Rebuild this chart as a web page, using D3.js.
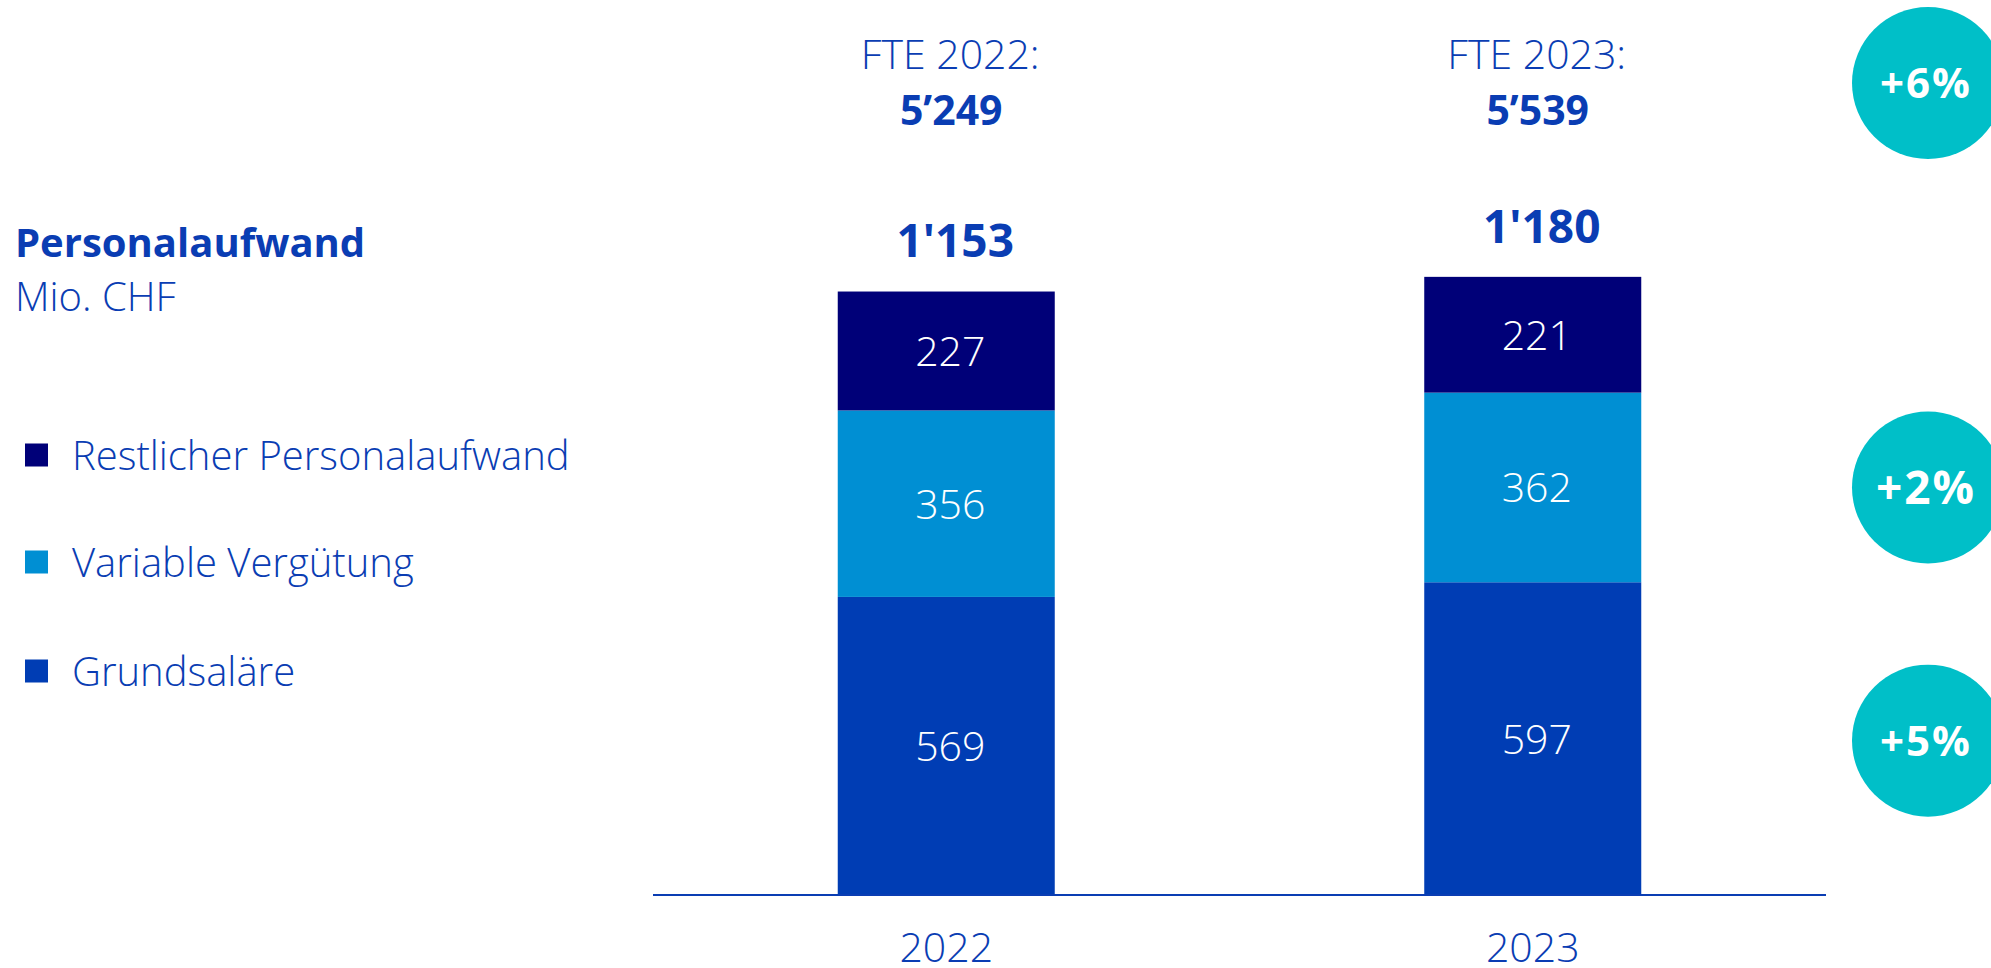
<!DOCTYPE html>
<html>
<head>
<meta charset="utf-8">
<script src="https://cdn.jsdelivr.net/npm/d3@7"></script>
<style>
  html, body { margin: 0; padding: 0; background: #ffffff; }
  svg { display: block; }
  text { font-family: "Open Sans", "Noto Sans", sans-serif; }
</style>
</head>
<body>
<svg id="chart" width="1991" height="968"></svg>
<script>
// ---- data ----
const years = ["2022", "2023"];
const seriesNames = ["Grundsaläre", "Variable Vergütung", "Restlicher Personalaufwand"];
const grundsalaere = [569, 597];
const variableVerguetung = [356, 362];
const restlicherAufwand = [227, 221];
const totalLabels = ["1'153", "1'180"];
const totalValues = [1153, 1180];
const fteLabels = ["FTE 2022:", "FTE 2023:"];
const fteValues = ["5’249", "5’539"];
const changeLabels = ["+6%", "+2%", "+5%"];
const titleText = "Personalaufwand";
const unitText = "Mio. CHF";

// ---- styling ----
const colors = {
  "Grundsaläre": "#003db4",
  "Variable Vergütung": "#008fd3",
  "Restlicher Personalaufwand": "#000078"
};
const textBlue = "#0a3db3";
const circleColor = "#00bfc8";

const svg = d3.select("#chart");

const x = d3.scaleBand().domain(years).range([653, 1826]).paddingInner(0.63).paddingOuter(0.315);
const y = d3.scaleLinear().domain([0, 1153]).range([895, 291]);

const rows = years.map((yr, i) => ({
  year: yr,
  "Grundsaläre": grundsalaere[i],
  "Variable Vergütung": variableVerguetung[i],
  "Restlicher Personalaufwand": restlicherAufwand[i]
}));
const stack = d3.stack().keys(seriesNames)(rows);

// bars
const layers = svg.append("g").selectAll("g").data(stack).join("g")
  .attr("fill", d => colors[d.key]);
layers.selectAll("rect").data(d => d).join("rect")
  .attr("x", d => x(d.data.year))
  .attr("width", x.bandwidth())
  .attr("y", d => y(d[1]))
  .attr("height", d => y(d[0]) - y(d[1]));

// segment labels
layers.each(function(layer) {
  d3.select(this).selectAll("text").data(layer).join("text")
    .attr("x", d => x(d.data.year) + x.bandwidth() / 2 + 4)
    .attr("y", d => (y(d[0]) + y(d[1])) / 2 + 15)
    .attr("text-anchor", "middle")
    .attr("fill", "#ffffff")
    .attr("font-size", 41)
    .attr("font-weight", 300)
    .text(d => d.data[layer.key]);
});

// axis baseline
const xAxis = d3.axisBottom(x).tickSize(0).tickPadding(0).tickFormat("");
const axisG = svg.append("g").attr("transform", "translate(0,895)").call(xAxis);
axisG.select(".domain").attr("stroke", textBlue).attr("stroke-width", 2)
  .attr("d", "M653,0H1826");

// year labels
svg.append("g").selectAll("text").data(years).join("text")
  .attr("x", d => x(d) + x.bandwidth() / 2)
  .attr("y", 962)
  .attr("text-anchor", "middle")
  .attr("fill", textBlue)
  .attr("font-size", 41)
  .attr("font-weight", 300)
  .text(d => d);

// totals
svg.append("g").selectAll("text").data(years).join("text")
  .attr("x", d => x(d) + x.bandwidth() / 2 + 9)
  .attr("y", (d, i) => y(totalValues[i]) - 34)
  .attr("text-anchor", "middle")
  .attr("fill", textBlue)
  .attr("font-size", 46)
  .attr("font-weight", 700)
  .text((d, i) => totalLabels[i]);

// FTE labels
svg.append("g").selectAll("text").data(years).join("text")
  .attr("x", d => x(d) + x.bandwidth() / 2 + 4)
  .attr("y", 69)
  .attr("text-anchor", "middle")
  .attr("fill", textBlue)
  .attr("font-size", 41)
  .attr("font-weight", 300)
  .text((d, i) => fteLabels[i]);
svg.append("g").selectAll("text").data(years).join("text")
  .attr("x", d => x(d) + x.bandwidth() / 2 + 5)
  .attr("y", 125)
  .attr("text-anchor", "middle")
  .attr("fill", textBlue)
  .attr("font-size", 41)
  .attr("font-weight", 700)
  .text((d, i) => fteValues[i]);

// change circles: FTE row, variable segment 2023, grundsaläre segment 2023
const last = years.length - 1;
const circleYs = [
  83,
  (y(stack[1][last][0]) + y(stack[1][last][1])) / 2,
  (y(stack[0][last][0]) + y(stack[0][last][1])) / 2 + 2
];
const circleFont = [42, 46, 42];
const cg = svg.append("g").selectAll("g").data(changeLabels).join("g")
  .attr("transform", (d, i) => `translate(1928,${circleYs[i]})`);
cg.append("circle").attr("r", 76).attr("fill", circleColor);
cg.append("text")
  .attr("x", -2)
  .attr("y", (d, i) => circleFont[i] * 0.36)
  .attr("text-anchor", "middle")
  .attr("fill", "#ffffff")
  .attr("font-size", (d, i) => circleFont[i])
  .attr("font-weight", 700)
  .attr("letter-spacing", 2)
  .text(d => d);

// title
svg.append("text").attr("x", 15).attr("y", 257)
  .attr("fill", textBlue).attr("font-size", 40).attr("font-weight", 700)
  .text(titleText);
svg.append("text").attr("x", 15).attr("y", 311)
  .attr("fill", textBlue).attr("font-size", 40).attr("font-weight", 300)
  .text(unitText);

// legend
const legendItems = seriesNames.slice().reverse();
const legendYs = [455, 562, 671];
const lg = svg.append("g").selectAll("g").data(legendItems).join("g")
  .attr("transform", (d, i) => `translate(25,${legendYs[i]})`);
lg.append("rect").attr("x", 0).attr("y", -11.5).attr("width", 23).attr("height", 23)
  .attr("fill", d => colors[d]);
lg.append("text").attr("x", 47).attr("y", 15)
  .attr("fill", textBlue).attr("font-size", 40).attr("font-weight", 300)
  .text(d => d);
</script>
</body>
</html>
